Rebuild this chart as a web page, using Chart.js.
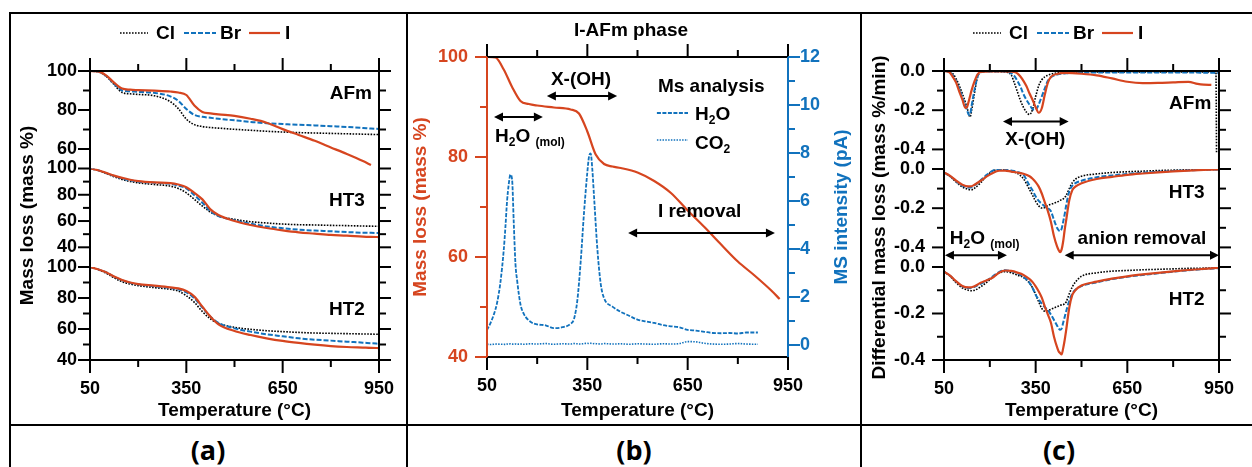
<!DOCTYPE html>
<html lang="en">
<head>
<meta charset="utf-8">
<title>TG / MS / DTG of AFm and hydrotalcite phases</title>
<script src="https://cdn.jsdelivr.net/npm/chart.js@4.4.1/dist/chart.umd.min.js"></script>
<style>
  html, body { margin: 0; padding: 0; background: #fff; }
  body { position: relative; width: 1252px; height: 467px; overflow: hidden; }
  canvas { position: absolute; left: 0; top: 0; }
  .rule { position: absolute; background: #000; }
  .cap { position: absolute; top: 432px; width: 120px; text-align: center;
         font: bold 27px 'Open Sans', 'Noto Sans', sans-serif; line-height: 36px; color: #000; }
</style>
</head>
<body>
<div class="rule" style="left:9px;top:12px;width:1243px;height:2px"></div>
<div class="rule" style="left:9px;top:12px;width:2px;height:455px"></div>
<div class="rule" style="left:406px;top:12px;width:2px;height:455px"></div>
<div class="rule" style="left:860px;top:12px;width:2px;height:455px"></div>
<div class="rule" style="left:9px;top:424px;width:1243px;height:2px"></div>
<div class="cap" style="left:148px">(a)</div>
<div class="cap" style="left:574px">(b)</div>
<div class="cap" style="left:999px">(c)</div>

<canvas id="chartA" width="1252" height="467"></canvas>
<canvas id="chartB" width="1252" height="467"></canvas>
<canvas id="chartC" width="1252" height="467"></canvas>

<script>
// ---- axis ticks ----
const xMajor = [50, 350, 650, 950];
const xMinor = [200, 500, 800];
const tgMajor = [40, 60, 80, 100];
const tgMinor = [50, 70, 90];
const msMajor = [0, 2, 4, 6, 8, 10, 12];
const msMinor = [1, 3, 5, 7, 9, 11];
const dtgMajor = [-0.4, -0.2, 0];
const dtgMinor = [-0.3, -0.1];

// ---- (a) mass loss, %  ----
const tgTemps = [50, 75, 100, 125, 150, 175, 200, 250, 300, 325, 350, 375, 400, 425, 450, 500, 550, 600, 650, 700, 750, 800, 850, 900, 925, 950];

const afmI  = [100, 99.8, 97.8, 94.0, 91.0, 90.4, 90.2, 89.9, 89.5, 89.0, 87.7, 82.3, 79.0, 78.3, 77.8, 77.0, 75.5, 73.5, 70.2, 67.2, 64.2, 60.8, 57.4, 53.8, 51.8, null];
const afmBr = [100, 99.7, 97.5, 93.5, 90.0, 89.6, 89.3, 88.8, 87.0, 84.7, 80.5, 77.5, 76.5, 76.0, 75.5, 74.7, 73.9, 73.2, 72.8, 72.4, 72.1, 71.7, 71.3, 70.8, 70.5, 70.3];
const afmCl = [100, 99.6, 97.3, 93.0, 89.0, 88.3, 88.0, 87.3, 84.3, 80.7, 75.3, 72.5, 71.5, 71.0, 70.7, 70.1, 69.6, 69.1, 68.7, 68.4, 68.2, 68.0, 67.8, 67.6, 67.5, 67.4];

const ht3I  = [100, 98.7, 96.7, 94.6, 92.9, 91.4, 90.4, 89.4, 88.9, 87.8, 85.8, 81.5, 76.5, 68.9, 64.6, 60.0, 57.0, 54.7, 52.9, 51.4, 50.4, 49.4, 48.9, 48.1, 47.9, 47.8];
const ht3Br = [100, 98.7, 96.5, 94.3, 92.5, 91.0, 90.0, 89.1, 88.3, 87.0, 84.8, 79.7, 73.9, 67.6, 63.8, 60.6, 58.0, 55.9, 54.5, 53.4, 52.7, 52.2, 51.6, 51.1, 51.0, 50.9];
const ht3Cl = [100, 98.6, 96.2, 93.7, 91.6, 90.1, 89.1, 87.8, 86.6, 84.8, 81.5, 76.5, 71.4, 66.8, 63.8, 61.3, 59.5, 58.5, 57.7, 57.2, 57.0, 56.7, 56.5, 56.2, 56.1, 56.0];

const ht2I  = [100, 98.5, 96.6, 93.8, 91.6, 90.0, 89.0, 88.0, 86.9, 86.2, 84.5, 80.9, 74.4, 68.0, 63.0, 58.7, 56.1, 54.0, 52.3, 51.0, 49.9, 49.0, 48.4, 48.0, 47.8, 47.7];
const ht2Br = [100, 98.5, 96.6, 93.7, 91.4, 89.8, 88.8, 87.6, 86.4, 85.5, 83.7, 79.8, 73.8, 68.0, 63.9, 60.4, 58.3, 56.6, 55.3, 54.0, 53.1, 52.5, 51.8, 51.2, 50.8, 50.5];
const ht2Cl = [100, 98.3, 96.0, 93.0, 90.5, 89.0, 88.0, 86.7, 85.6, 84.5, 81.5, 77.2, 71.2, 66.5, 63.7, 61.1, 59.8, 58.9, 58.3, 57.8, 57.4, 57.2, 57.0, 56.8, 56.7, 56.6];

// ---- (b) I-AFm: mass loss and MS signals ----
const iAfmMass = [100, 99.9, 97.5, 94.0, 91.2, 90.6, 90.3, 89.9, 89.5, 88.7, 85.1, 80.5, 78.6, 78.1, 77.8, 76.9, 75.2, 72.8, 69.3, 66.0, 62.5, 59.1, 56.3, 53.3, 51.6, null];

const msTemps = [50, 60, 70, 80, 90, 100, 105, 110, 115, 120, 125, 130, 135, 140, 150, 160, 180, 200, 225, 250, 275, 300, 310, 320, 330, 340, 350, 355, 360, 365, 370, 380, 390, 400, 425, 450, 475, 500, 525, 550, 575, 600, 625, 650, 675, 700, 725, 750, 775, 800, 825, 860];
const msH2O = [0.62, 0.9, 1.25, 1.75, 2.6, 3.95, 4.9, 6.0, 6.7, 7.1, 6.9, 5.1, 3.4, 2.7, 1.7, 1.3, 0.97, 0.86, 0.82, 0.7, 0.74, 0.88, 1.08, 1.85, 3.45, 5.5, 7.2, 7.85, 7.98, 7.3, 6.2, 4.0, 2.55, 1.95, 1.6, 1.38, 1.22, 1.06, 0.98, 0.92, 0.83, 0.78, 0.74, 0.63, 0.6, 0.55, 0.5, 0.49, 0.5, 0.48, 0.52, 0.52];
const msCO2 = [0.03, 0.02, 0.03, 0.04, 0.03, 0.03, 0.02, 0.04, 0.03, 0.05, 0.04, 0.03, 0.04, 0.03, 0.04, 0.03, 0.05, 0.04, 0.06, 0.03, 0.05, 0.04, 0.06, 0.05, 0.04, 0.06, 0.07, 0.06, 0.07, 0.05, 0.06, 0.05, 0.04, 0.06, 0.04, 0.05, 0.03, 0.05, 0.04, 0.03, 0.05, 0.04, 0.06, 0.14, 0.13, 0.07, 0.04, 0.03, 0.04, 0.06, 0.04, 0.03];

// ---- (c) differential mass loss, %/min ----
const dtgTempsAfm = [50, 60, 70, 80, 90, 100, 110, 120, 125, 130, 135, 140, 150, 160, 170, 200, 250, 270, 280, 290, 300, 310, 320, 330, 340, 350, 360, 370, 380, 390, 400, 420, 450, 500, 550, 600, 650, 700, 750, 800, 850, 880, 900, 925, 940, 942, 950];
const dtgAfmI  = [0, -0.002, -0.01, -0.033, -0.06, -0.105, -0.145, -0.188, -0.185, -0.16, -0.13, -0.1, -0.052, -0.017, -0.005, -0.002, -0.002, -0.003, -0.005, -0.012, -0.028, -0.05, -0.078, -0.115, -0.148, -0.185, -0.213, -0.19, -0.12, -0.06, -0.03, -0.015, -0.01, -0.014, -0.022, -0.038, -0.055, -0.062, -0.061, -0.058, -0.055, -0.066, -0.07, -0.071, null, null, null];
const dtgAfmBr = [0, -0.002, -0.008, -0.025, -0.055, -0.09, -0.135, -0.175, -0.198, -0.22, -0.224, -0.18, -0.095, -0.028, -0.006, -0.002, -0.003, -0.012, -0.025, -0.05, -0.08, -0.118, -0.148, -0.172, -0.195, -0.198, -0.17, -0.13, -0.088, -0.05, -0.032, -0.018, -0.012, -0.009, -0.008, -0.008, -0.008, -0.008, -0.008, -0.008, -0.008, -0.008, -0.009, -0.009, -0.01, -0.01, -0.01];
const dtgAfmCl = [0, -0.001, -0.005, -0.016, -0.04, -0.075, -0.115, -0.16, -0.185, -0.212, -0.235, -0.205, -0.11, -0.03, -0.005, -0.002, -0.005, -0.02, -0.06, -0.105, -0.15, -0.185, -0.21, -0.222, -0.195, -0.13, -0.075, -0.045, -0.03, -0.022, -0.016, -0.01, -0.007, -0.005, -0.005, -0.005, -0.005, -0.005, -0.005, -0.005, -0.005, -0.005, -0.005, -0.005, -0.005, -0.42, null];

const dtgTempsHT = [50, 70, 90, 110, 130, 140, 150, 170, 190, 210, 230, 250, 270, 290, 310, 330, 340, 350, 360, 370, 380, 390, 400, 410, 420, 425, 430, 435, 440, 445, 450, 460, 470, 480, 500, 550, 600, 650, 700, 750, 800, 850, 900, 950];
const dtgHt3I  = [-0.017, -0.035, -0.06, -0.08, -0.089, -0.088, -0.08, -0.06, -0.038, -0.02, -0.009, -0.008, -0.013, -0.018, -0.024, -0.037, -0.05, -0.067, -0.09, -0.125, -0.17, -0.215, -0.27, -0.343, -0.395, -0.413, -0.424, -0.41, -0.37, -0.31, -0.26, -0.16, -0.108, -0.09, -0.073, -0.051, -0.04, -0.03, -0.023, -0.017, -0.012, -0.008, -0.005, -0.002];
const dtgHt3Br = [-0.018, -0.037, -0.063, -0.085, -0.095, -0.093, -0.083, -0.058, -0.03, -0.008, -0.002, -0.004, -0.008, -0.015, -0.03, -0.085, -0.11, -0.14, -0.163, -0.177, -0.19, -0.2, -0.216, -0.26, -0.3, -0.312, -0.317, -0.305, -0.27, -0.23, -0.185, -0.115, -0.085, -0.072, -0.06, -0.042, -0.033, -0.025, -0.019, -0.014, -0.01, -0.007, -0.004, -0.002];
const dtgHt3Cl = [-0.018, -0.038, -0.067, -0.092, -0.104, -0.106, -0.098, -0.07, -0.035, -0.01, -0.003, -0.006, -0.012, -0.022, -0.05, -0.105, -0.135, -0.165, -0.188, -0.199, -0.197, -0.186, -0.18, -0.175, -0.168, -0.165, -0.16, -0.157, -0.153, -0.145, -0.135, -0.1, -0.07, -0.052, -0.037, -0.025, -0.018, -0.014, -0.011, -0.008, -0.006, -0.004, -0.003, -0.002];
const dtgHt2I  = [-0.02, -0.037, -0.062, -0.082, -0.088, -0.087, -0.083, -0.068, -0.057, -0.045, -0.025, -0.015, -0.017, -0.024, -0.034, -0.052, -0.065, -0.083, -0.105, -0.132, -0.17, -0.205, -0.24, -0.3, -0.345, -0.362, -0.37, -0.376, -0.35, -0.314, -0.27, -0.175, -0.12, -0.1, -0.08, -0.063, -0.05, -0.04, -0.032, -0.025, -0.019, -0.013, -0.008, -0.003];
const dtgHt2Br = [-0.02, -0.038, -0.063, -0.083, -0.09, -0.089, -0.085, -0.072, -0.058, -0.04, -0.022, -0.014, -0.018, -0.027, -0.042, -0.068, -0.09, -0.12, -0.14, -0.158, -0.173, -0.186, -0.205, -0.228, -0.252, -0.263, -0.27, -0.265, -0.24, -0.215, -0.19, -0.145, -0.115, -0.098, -0.082, -0.066, -0.052, -0.042, -0.034, -0.027, -0.02, -0.014, -0.009, -0.005];
const dtgHt2Cl = [-0.02, -0.04, -0.068, -0.09, -0.1, -0.102, -0.1, -0.085, -0.066, -0.044, -0.026, -0.02, -0.025, -0.035, -0.045, -0.07, -0.09, -0.118, -0.15, -0.178, -0.19, -0.188, -0.182, -0.176, -0.171, -0.168, -0.165, -0.163, -0.162, -0.158, -0.15, -0.115, -0.085, -0.065, -0.04, -0.025, -0.018, -0.015, -0.012, -0.01, -0.008, -0.006, -0.005, -0.003];

// ---- styles ----
const RED = '#d6451f';
const BLUE = '#1172bd';
const FONT = "'Liberation Sans', Arial, sans-serif";

Chart.defaults.font.family = FONT;
Chart.defaults.font.weight = 'bold';
Chart.defaults.font.size = 18;
Chart.defaults.color = '#000';
Chart.defaults.animation = false;
Chart.defaults.plugins.legend.display = false;
Chart.defaults.plugins.tooltip.enabled = false;

const styles = {
  I:   { borderColor: RED, borderWidth: 2.2 },
  Br:  { borderColor: BLUE, borderWidth: 2, borderDash: [5, 2] },
  Cl:  { borderColor: '#000', borderWidth: 1.6, borderDash: [1.6, 1.4] },
  H2O: { borderColor: BLUE, borderWidth: 1.8, borderDash: [4, 1.5] },
  CO2: { borderColor: BLUE, borderWidth: 1.6, borderDash: [1.5, 1.3] }
};

function trace(xs, ys, style, axis) {
  return Object.assign({
    data: xs.map((x, i) => ({ x: x, y: ys[i] })),
    yAxisID: axis, pointRadius: 0, fill: false, cubicInterpolationMode: 'monotone'
  }, style);
}

function xAxis() {
  return {
    type: 'linear', min: 50, max: 950,
    grid: { display: false, drawTicks: false }, border: { display: false },
    ticks: { autoSkip: false, maxRotation: 0, padding: 18 },
    afterBuildTicks: s => { s.ticks = xMajor.map(v => ({ value: v })); },
    afterFit: s => { s.height = 40; }
  };
}

function yAxis(min, max, major, extra) {
  return Object.assign({
    type: 'linear', position: 'left', min: min, max: max,
    grid: { display: false, drawTicks: false }, border: { display: false },
    ticks: { autoSkip: false, padding: 13 },
    afterBuildTicks: s => { s.ticks = major.filter(v => v >= min && v <= max).map(v => ({ value: v })); },
    afterFit: s => { s.width = 50; }
  }, extra);
}

// ---- drawing helpers for frame, ticks and labels ----
function seg(ctx, x1, y1, x2, y2) {
  ctx.beginPath(); ctx.moveTo(x1, y1); ctx.lineTo(x2, y2); ctx.stroke();
}

function frame(ctx, ca, leftColor, rightColor) {
  ctx.lineWidth = 2;
  ctx.strokeStyle = '#000';
  seg(ctx, ca.left - 1, ca.top, ca.right + 1, ca.top);
  seg(ctx, ca.left - 1, ca.bottom, ca.right + 1, ca.bottom);
  ctx.strokeStyle = leftColor;
  seg(ctx, ca.left, ca.top, ca.left, ca.bottom);
  ctx.strokeStyle = rightColor;
  seg(ctx, ca.right, ca.top, ca.right, ca.bottom);
}

function xTicks(ctx, scale, ca) {
  ctx.lineWidth = 2; ctx.strokeStyle = '#000';
  xMajor.forEach(v => {
    const p = scale.getPixelForValue(v);
    seg(ctx, p, ca.top, p, ca.top - 13); seg(ctx, p, ca.bottom, p, ca.bottom + 13);
  });
  xMinor.forEach(v => {
    const p = scale.getPixelForValue(v);
    seg(ctx, p, ca.top, p, ca.top - 7); seg(ctx, p, ca.bottom, p, ca.bottom + 7);
  });
}

function yTicks(ctx, scale, major, minor, x, dir, color) {
  ctx.lineWidth = 2; ctx.strokeStyle = color;
  const lo = scale.min, hi = scale.max;
  major.filter(v => v >= lo && v <= hi).forEach(v => {
    const p = scale.getPixelForValue(v); seg(ctx, x, p, x + dir * 12, p);
  });
  minor.filter(v => v > lo && v < hi).forEach(v => {
    const p = scale.getPixelForValue(v); seg(ctx, x, p, x + dir * 7, p);
  });
}

function text(ctx, str, x, y, align, color, size) {
  ctx.font = 'bold ' + (size || 19) + 'px ' + FONT;
  ctx.fillStyle = color || '#000';
  ctx.textAlign = align || 'left';
  ctx.textBaseline = 'middle';
  ctx.fillText(str, x, y);
}

function vtext(ctx, str, x, y, color) {
  ctx.save(); ctx.translate(x, y); ctx.rotate(-Math.PI / 2);
  text(ctx, str, 0, 0, 'center', color); ctx.restore();
}

// formula with subscripts, parts = [[string, isSubscript], ...]
function chem(ctx, parts, x, y) {
  ctx.fillStyle = '#000'; ctx.textAlign = 'left'; ctx.textBaseline = 'alphabetic';
  parts.forEach(([s, sub]) => {
    ctx.font = 'bold ' + (sub ? 12 : 19) + 'px ' + FONT;
    ctx.fillText(s, x, y + (sub ? 4 : 0));
    x += ctx.measureText(s).width;
  });
}

function dblArrow(ctx, x1, x2, y) {
  ctx.strokeStyle = '#000'; ctx.fillStyle = '#000'; ctx.lineWidth = 2;
  seg(ctx, x1 + 5, y, x2 - 5, y);
  [[x1, 1], [x2, -1]].forEach(([x, d]) => {
    ctx.beginPath(); ctx.moveTo(x, y); ctx.lineTo(x + d * 9, y - 4.5); ctx.lineTo(x + d * 9, y + 4.5);
    ctx.closePath(); ctx.fill();
  });
}

function sample(ctx, st, x1, x2, y) {
  ctx.save();
  ctx.strokeStyle = st.borderColor; ctx.lineWidth = st.borderWidth;
  ctx.setLineDash(st.borderDash || []);
  seg(ctx, x1, y, x2, y);
  ctx.restore();
}

function halideLegend(ctx, x0) {
  sample(ctx, styles.Cl, x0, x0 + 28, 33); text(ctx, 'Cl', x0 + 36, 34);
  sample(ctx, styles.Br, x0 + 64, x0 + 96, 33); text(ctx, 'Br', x0 + 100, 34);
  sample(ctx, styles.I, x0 + 129, x0 + 160, 33); text(ctx, 'I', x0 + 165, 34);
}

// ---- (a) TG curves ----
const decorA = {
  id: 'decorA',
  afterDraw(chart) {
    const { ctx, chartArea: ca, scales: s } = chart;
    ctx.save();
    frame(ctx, ca, '#000', '#000');
    xTicks(ctx, s.x, ca);
    ['yAFm', 'yHT3', 'yHT2'].forEach(id => {
      yTicks(ctx, s[id], tgMajor, tgMinor, ca.left, -1, '#000');
      yTicks(ctx, s[id], tgMajor, tgMinor, ca.right, 1, '#000');
    });
    text(ctx, 'AFm', s.x.getPixelForValue(928), s.yAFm.getPixelForValue(88.2), 'right');
    text(ctx, 'HT3', s.x.getPixelForValue(906), s.yHT3.getPixelForValue(75.3), 'right');
    text(ctx, 'HT2', s.x.getPixelForValue(906), s.yHT2.getPixelForValue(72.3), 'right');
    halideLegend(ctx, 120);
    vtext(ctx, 'Mass loss (mass %)', 28, (ca.top + ca.bottom) / 2);
    text(ctx, 'Temperature (°C)', (ca.left + ca.right) / 2, 411, 'center');
    ctx.restore();
  }
};

new Chart(document.getElementById('chartA'), {
  type: 'line',
  data: {
    datasets: [
      trace(tgTemps, afmI, styles.I, 'yAFm'), trace(tgTemps, afmBr, styles.Br, 'yAFm'), trace(tgTemps, afmCl, styles.Cl, 'yAFm'),
      trace(tgTemps, ht3I, styles.I, 'yHT3'), trace(tgTemps, ht3Br, styles.Br, 'yHT3'), trace(tgTemps, ht3Cl, styles.Cl, 'yHT3'),
      trace(tgTemps, ht2I, styles.I, 'yHT2'), trace(tgTemps, ht2Br, styles.Br, 'yHT2'), trace(tgTemps, ht2Cl, styles.Cl, 'yHT2')
    ]
  },
  options: {
    responsive: false,
    layout: { padding: { left: 40, right: 873, top: 71, bottom: 67 } },
    scales: {
      x: xAxis(),
      yHT2: yAxis(40, 100, tgMajor, { stack: 'tg', stackWeight: 93 }),
      yHT3: yAxis(25, 100, tgMajor, { stack: 'tg', stackWeight: 98.5 }),
      yAFm: yAxis(50, 100, tgMajor, { stack: 'tg', stackWeight: 97.5 })
    }
  },
  plugins: [decorA]
});

// ---- (b) I-AFm with MS analysis ----
const decorB = {
  id: 'decorB',
  afterDraw(chart) {
    const { ctx, chartArea: ca, scales: s } = chart;
    const X = v => s.x.getPixelForValue(v), Y = v => s.y.getPixelForValue(v);
    ctx.save();
    frame(ctx, ca, RED, BLUE);
    xTicks(ctx, s.x, ca);
    yTicks(ctx, s.y, tgMajor, tgMinor, ca.left, -1, RED);
    yTicks(ctx, s.y2, msMajor, msMinor, ca.right, 1, BLUE);
    text(ctx, 'I-AFm phase', 631, 31, 'center');
    text(ctx, 'X-(OH)', X(331), Y(95.4), 'center');
    dblArrow(ctx, X(229), X(439), Y(92.2));
    dblArrow(ctx, X(71), X(217), Y(88));
    chem(ctx, [['H', false], ['2', true], ['O', false], [' ', false], ['(mol)', true]], X(74), Y(83));
    text(ctx, 'Ms analysis', X(561), Y(94));
    sample(ctx, styles.H2O, X(558), X(651), Y(88.8));
    chem(ctx, [['H', false], ['2', true], ['O', false]], X(672), Y(88.8) + 7);
    sample(ctx, styles.CO2, X(558), X(651), Y(83.4));
    chem(ctx, [['CO', false], ['2', true]], X(672), Y(83.4) + 9);
    text(ctx, 'I removal', X(561), Y(69));
    dblArrow(ctx, X(472), X(911), Y(64.8));
    vtext(ctx, 'Mass loss (mass %)', 421, (ca.top + ca.bottom) / 2, RED);
    vtext(ctx, 'MS intensity (pA)', 842, (ca.top + ca.bottom) / 2, BLUE);
    text(ctx, 'Temperature (°C)', (ca.left + ca.right) / 2, 411, 'center');
    ctx.restore();
  }
};

new Chart(document.getElementById('chartB'), {
  type: 'line',
  data: {
    datasets: [
      trace(tgTemps, iAfmMass, styles.I, 'y'),
      trace(msTemps, msH2O, styles.H2O, 'y2'),
      trace(msTemps, msCO2, styles.CO2, 'y2')
    ]
  },
  options: {
    responsive: false,
    layout: { padding: { left: 437, right: 424, top: 57, bottom: 70 } },
    scales: {
      x: xAxis(),
      y: yAxis(40, 100, tgMajor, { ticks: { autoSkip: false, padding: 19, color: RED } }),
      y2: yAxis(-0.5, 12, msMajor, {
        position: 'right',
        ticks: { autoSkip: false, padding: 12, color: BLUE },
        afterFit: s => { s.width = 40; }
      })
    }
  },
  plugins: [decorB]
});

// ---- (c) DTG curves ----
const decorC = {
  id: 'decorC',
  afterDraw(chart) {
    const { ctx, chartArea: ca, scales: s } = chart;
    const X = v => s.x.getPixelForValue(v);
    ctx.save();
    frame(ctx, ca, '#000', '#000');
    xTicks(ctx, s.x, ca);
    ['yAFm', 'yHT3', 'yHT2'].forEach(id => {
      yTicks(ctx, s[id], dtgMajor, dtgMinor, ca.left, -1, '#000');
      yTicks(ctx, s[id], dtgMajor, dtgMinor, ca.right, 1, '#000');
    });
    text(ctx, 'AFm', X(925), s.yAFm.getPixelForValue(-0.168), 'right');
    dblArrow(ctx, X(243), X(458), s.yAFm.getPixelForValue(-0.258));
    text(ctx, 'X-(OH)', X(349), s.yAFm.getPixelForValue(-0.352), 'center');
    text(ctx, 'HT3', X(903), s.yHT3.getPixelForValue(-0.122), 'right');
    chem(ctx, [['H', false], ['2', true], ['O', false], [' ', false], ['(mol)', true]], X(69), s.yHT3.getPixelForValue(-0.385));
    dblArrow(ctx, X(53), X(256), s.yHT3.getPixelForValue(-0.44));
    text(ctx, 'anion removal', X(698), s.yHT3.getPixelForValue(-0.354), 'center');
    dblArrow(ctx, X(445), X(950), s.yHT3.getPixelForValue(-0.44));
    text(ctx, 'HT2', X(903), s.yHT2.getPixelForValue(-0.142), 'right');
    halideLegend(ctx, 973);
    vtext(ctx, 'Differential mass loss (mass %/min)', 880, (ca.top + ca.bottom) / 2 + 2);
    text(ctx, 'Temperature (°C)', (ca.left + ca.right) / 2, 411, 'center');
    ctx.restore();
  }
};

const dtgLabel = { ticks: { autoSkip: false, padding: 19, callback: v => v.toFixed(1) } };

new Chart(document.getElementById('chartC'), {
  type: 'line',
  data: {
    datasets: [
      trace(dtgTempsAfm, dtgAfmI, styles.I, 'yAFm'), trace(dtgTempsAfm, dtgAfmBr, styles.Br, 'yAFm'), trace(dtgTempsAfm, dtgAfmCl, styles.Cl, 'yAFm'),
      trace(dtgTempsHT, dtgHt3I, styles.I, 'yHT3'), trace(dtgTempsHT, dtgHt3Br, styles.Br, 'yHT3'), trace(dtgTempsHT, dtgHt3Cl, styles.Cl, 'yHT3'),
      trace(dtgTempsHT, dtgHt2I, styles.I, 'yHT2'), trace(dtgTempsHT, dtgHt2Br, styles.Br, 'yHT2'), trace(dtgTempsHT, dtgHt2Cl, styles.Cl, 'yHT2')
    ]
  },
  options: {
    responsive: false,
    layout: { padding: { left: 894, right: 19, top: 71, bottom: 67 } },
    scales: {
      x: xAxis(),
      yHT2: yAxis(-0.4, 0, dtgMajor, Object.assign({ stack: 'dtg', stackWeight: 93 }, dtgLabel)),
      yHT3: yAxis(-0.5, 0, dtgMajor, Object.assign({ stack: 'dtg', stackWeight: 98 }, dtgLabel)),
      yAFm: yAxis(-0.5, 0, dtgMajor, Object.assign({ stack: 'dtg', stackWeight: 98 }, dtgLabel))
    }
  },
  plugins: [decorC]
});
</script>
</body>
</html>
